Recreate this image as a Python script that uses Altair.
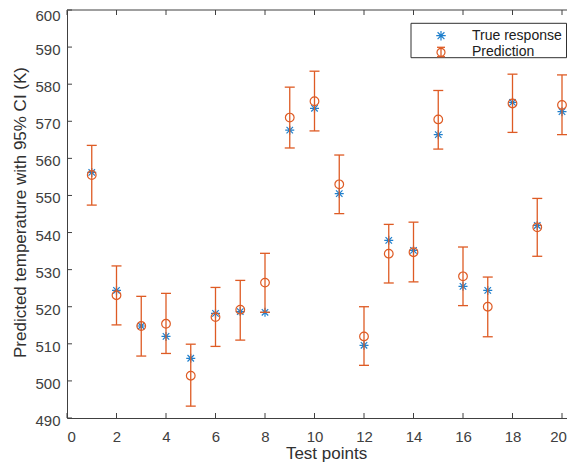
import altair as alt
import pandas as pd

# ---- data ----
test_points = list(range(1, 21))
true_response = [556.2, 524.4, 514.8, 512.0, 506.1, 518.2, 518.7, 518.5, 567.6, 573.5,
                 550.5, 509.6, 537.9, 535.2, 566.4, 525.5, 524.4, 575.1, 541.9, 572.6]
prediction = [555.5, 523.1, 514.8, 515.4, 501.4, 517.2, 519.2, 526.5, 571.0, 575.4,
              553.0, 512.0, 534.3, 534.7, 570.5, 528.2, 520.0, 574.8, 541.4, 574.4]
ci_lower = [547.4, 515.1, 506.7, 507.4, 493.2, 509.3, 511.0, 518.5, 562.8, 567.4,
            545.1, 504.2, 526.4, 526.7, 562.5, 520.3, 511.9, 567.0, 533.6, 566.4]
ci_upper = [563.5, 531.0, 522.8, 523.6, 509.9, 525.2, 527.1, 534.4, 579.2, 583.5,
            560.9, 520.0, 542.2, 542.8, 578.3, 536.1, 528.0, 582.7, 549.2, 582.5]
x_ticks = list(range(0, 21, 2))
y_ticks = list(range(490, 601, 10))
legend_labels = ["True response", "Prediction"]
x_title = "Test points"
y_title = "Predicted temperature with 95% CI (K)"

df = pd.DataFrame({"x": test_points, "true": true_response, "pred": prediction,
                   "lo": ci_lower, "hi": ci_upper})
xt = pd.DataFrame({"x": x_ticks})
yt = pd.DataFrame({"true": y_ticks})
one = pd.DataFrame({"k": [0]})

W, H = 500, 408
BLUE = "#1f7fcc"
ORANGE = "#DE5B24"
AX = "#404040"
FONT = "Liberation Sans"
ASTER = "M-1,0L1,0M0,-1L0,1M-0.72,-0.72L0.72,0.72M-0.72,0.72L0.72,-0.72"

xs = alt.Scale(domain=[0, W / 24.75], nice=False, zero=False)
ys = alt.Scale(domain=[490, 600], nice=False, zero=False)

x_axis = alt.Axis(values=x_ticks, title=x_title, ticks=False, grid=False,
                  domainColor=AX, labelFont=FONT, labelFontSize=15, labelColor=AX,
                  labelPadding=11,
                  labelOffset={"condition": {"test": "datum.value >= 20", "value": -4},
                               "value": 0},
                  titleFont=FONT, titleFontSize=17, titleColor="#303030",
                  titleFontWeight="normal", titleBaseline="alphabetic", titleY=40.5,
                  titleX=259)
y_axis = alt.Axis(values=y_ticks, title=y_title, ticks=False, grid=False,
                  domainColor=AX, labelFont=FONT, labelFontSize=15, labelColor=AX,
                  labelPadding=7,
                  labelOffset={"condition": {"test": "datum.value >= 600", "value": 5},
                               "value": 2.5},
                  titleFont=FONT, titleFontSize=17, titleColor="#303030",
                  titleFontWeight="normal", titleAngle=-90, titleBaseline="alphabetic",
                  titleX=-42, titleY=202)

def X(f):
    return alt.X(f, scale=xs, axis=x_axis)

def Y(f):
    return alt.Y(f, scale=ys, axis=y_axis)

# true response asterisks (drawn first)
aster = alt.Chart(df).mark_point(shape=ASTER, filled=False, size=81, color=BLUE,
                                 strokeWidth=1.2, opacity=1).encode(
    x=X("x:Q"), y=Y("true:Q"))

bars = alt.Chart(df).mark_rule(color=ORANGE, strokeWidth=1.3).encode(
    x=X("x:Q"), y=Y("lo:Q"), y2="hi:Q")
cap_lo = alt.Chart(df).mark_tick(orient="horizontal", size=10, thickness=1.3,
                                 color=ORANGE, opacity=1).encode(x=X("x:Q"), y=Y("lo:Q"))
cap_hi = alt.Chart(df).mark_tick(orient="horizontal", size=10, thickness=1.3,
                                 color=ORANGE, opacity=1).encode(x=X("x:Q"), y=Y("hi:Q"))
circles = alt.Chart(df).mark_point(shape="circle", filled=False, size=75, color=ORANGE,
                                   strokeWidth=1.2, opacity=1).encode(
    x=X("x:Q"), y=Y("pred:Q"))

# inward ticks and top frame
ytick = alt.Chart(yt).mark_rule(color=AX, strokeWidth=1).encode(
    y=Y("true:Q"), x=alt.value(0), x2=alt.value(5))
xtick_b = alt.Chart(xt).mark_rule(color=AX, strokeWidth=1).encode(
    x=X("x:Q"), y=alt.value(H), y2=alt.value(H - 5))
xtick_t = alt.Chart(xt).mark_rule(color=AX, strokeWidth=1).encode(
    x=X("x:Q"), y=alt.value(0), y2=alt.value(5))
top_line = alt.Chart(one).mark_rule(color=AX, strokeWidth=1).encode(
    x=alt.value(0), x2=alt.value(W), y=alt.value(0))

# legend
LX = -4
leg_box = alt.Chart(one).mark_rect(fill="white", stroke="#303030", strokeWidth=1).encode(
    x=alt.value(348 + LX), x2=alt.value(W - 0.5), y=alt.value(13.3), y2=alt.value(47.7))
leg_ast = alt.Chart(one).mark_point(shape=ASTER, filled=False, size=90, color=BLUE,
                                    strokeWidth=1.2, opacity=1).encode(
    x=alt.value(378 + LX), y=alt.value(25.7))
leg_t1 = alt.Chart(one).mark_text(align="left", baseline="middle", font=FONT,
                                  fontSize=14, color="#202020").encode(
    x=alt.value(409 + LX), y=alt.value(25.7), text=alt.value(legend_labels[0]))
leg_t2 = alt.Chart(one).mark_text(align="left", baseline="middle", font=FONT,
                                  fontSize=14, color="#202020").encode(
    x=alt.value(409 + LX), y=alt.value(42.3), text=alt.value(legend_labels[1]))
leg_bar = alt.Chart(one).mark_rule(color=ORANGE, strokeWidth=1.3).encode(
    x=alt.value(378 + LX), y=alt.value(37.3), y2=alt.value(46.7))
leg_c1 = alt.Chart(one).mark_rule(color=ORANGE, strokeWidth=1.3).encode(
    x=alt.value(374 + LX), x2=alt.value(382 + LX), y=alt.value(37.3))
leg_c2 = alt.Chart(one).mark_rule(color=ORANGE, strokeWidth=1.3).encode(
    x=alt.value(374 + LX), x2=alt.value(382 + LX), y=alt.value(46.7))
leg_circ = alt.Chart(one).mark_point(shape="circle", filled=False, size=64, color=ORANGE,
                                     strokeWidth=1.2, opacity=1).encode(
    x=alt.value(378 + LX), y=alt.value(42.3))

chart = alt.layer(
    aster, bars, cap_lo, cap_hi, circles,
    ytick, xtick_b, xtick_t, top_line,
    leg_box, leg_ast, leg_t1, leg_t2, leg_bar, leg_c1, leg_c2, leg_circ,
).properties(
    width=W, height=H,
    autosize=alt.AutoSizeParams(type="none"),
    padding={"left": 59, "top": 2, "right": 0, "bottom": 44},
    background="white",
).configure_view(stroke=None)

chart.save("out.html", embed_options={"renderer": "svg", "actions": False})
